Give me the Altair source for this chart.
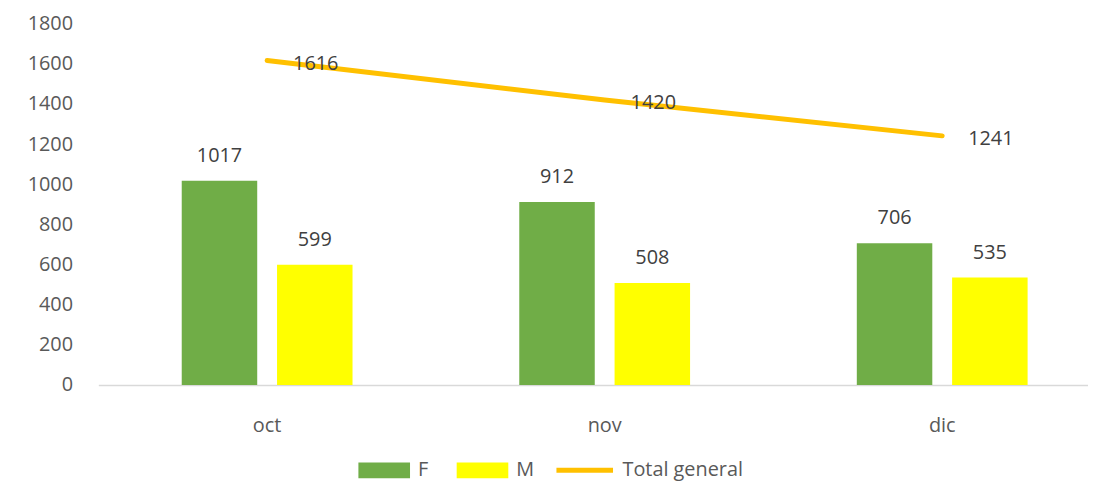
import altair as alt
import pandas as pd

months = ["oct", "nov", "dic"]
f_values = [1017, 912, 706]
m_values = [599, 508, 535]
total_values = [1616, 1420, 1241]
series = ["F", "M"]
total_name = "Total general"
y_ticks = [0, 200, 400, 600, 800, 1000, 1200, 1400, 1600, 1800]

bars_df = pd.DataFrame({
    "month": months * 2,
    "sex": ["F"] * len(months) + ["M"] * len(months),
    "value": f_values + m_values,
})
total_df = pd.DataFrame({
    "month": months,
    "series": [total_name] * len(months),
    "value": total_values,
})

FONT = "Open Sans"
TXT = "#404040"
AX = "#595959"

x = alt.X(
    "month:N", sort=months,
    scale=alt.Scale(paddingInner=0.494, paddingOuter=0.213, align=0.58),
    axis=alt.Axis(title=None, labelAngle=0, ticks=False, domainColor="#D9D9D9",
                  domainWidth=1.5, labelPadding=31, labelFontSize=20,
                  labelColor=AX, labelFont=FONT),
)
y = alt.Y(
    "value:Q", scale=alt.Scale(domain=[0, 1800]),
    axis=alt.Axis(values=y_ticks, format="d", title=None, grid=False, domain=False,
                  ticks=False, labelPadding=26, labelFontSize=20, labelColor=AX,
                  labelFont=FONT),
)
xoff = alt.XOffset("sex:N", sort=series, scale=alt.Scale(paddingInner=0.208, paddingOuter=0))

bars = alt.Chart(bars_df).mark_bar().encode(
    x=x, y=y, xOffset=xoff,
    fill=alt.Fill("sex:N", sort=series,
                  scale=alt.Scale(domain=series, range=["#70AD47", "#FFFF00"]),
                  legend=alt.Legend(title=None, orient="none", direction="horizontal",
                                    legendX=262, legendY=424,
                                    symbolType="M-1,-0.3077H1V0.3077H-1Z",
                                    symbolSize=2704, symbolStrokeWidth=0,
                                    labelFontSize=20, labelFont=FONT, labelColor=AX,
                                    labelOffset=8, columnPadding=28)),
)
bar_labels = alt.Chart(bars_df).mark_text(
    baseline="middle", dy=-25, fontSize=20, font=FONT, color=TXT
).encode(x=x, y=y, xOffset=xoff, text=alt.Text("value:Q"))

line = alt.Chart(total_df).mark_line(strokeWidth=5, strokeCap="round").encode(
    x=x, y=y,
    stroke=alt.Stroke("series:N",
                      scale=alt.Scale(domain=[total_name], range=["#FFC000"]),
                      legend=alt.Legend(title=None, orient="none", direction="horizontal",
                                        legendX=459, legendY=419,
                                        symbolType="stroke", symbolSize=3249,
                                        symbolStrokeWidth=5,
                                        labelFontSize=20, labelFont=FONT, labelColor=AX,
                                        labelOffset=7)),
)
line_labels = alt.Chart(total_df).mark_text(
    baseline="middle", dx=49, dy=3.5, fontSize=20, font=FONT, color=TXT
).encode(x=x, y=y, text=alt.Text("value:Q"))

chart = alt.layer(bars, bar_labels, line, line_labels).resolve_scale(
    fill="independent", stroke="independent"
).properties(
    width=997, height=364,
    background="white",
    autosize=alt.AutoSizeParams(type="none"),
    padding={"left": 91, "top": 14, "right": 0, "bottom": 96},
).configure_view(stroke=None)

chart.save("out.html", embed_options={"renderer": "svg", "actions": False})
